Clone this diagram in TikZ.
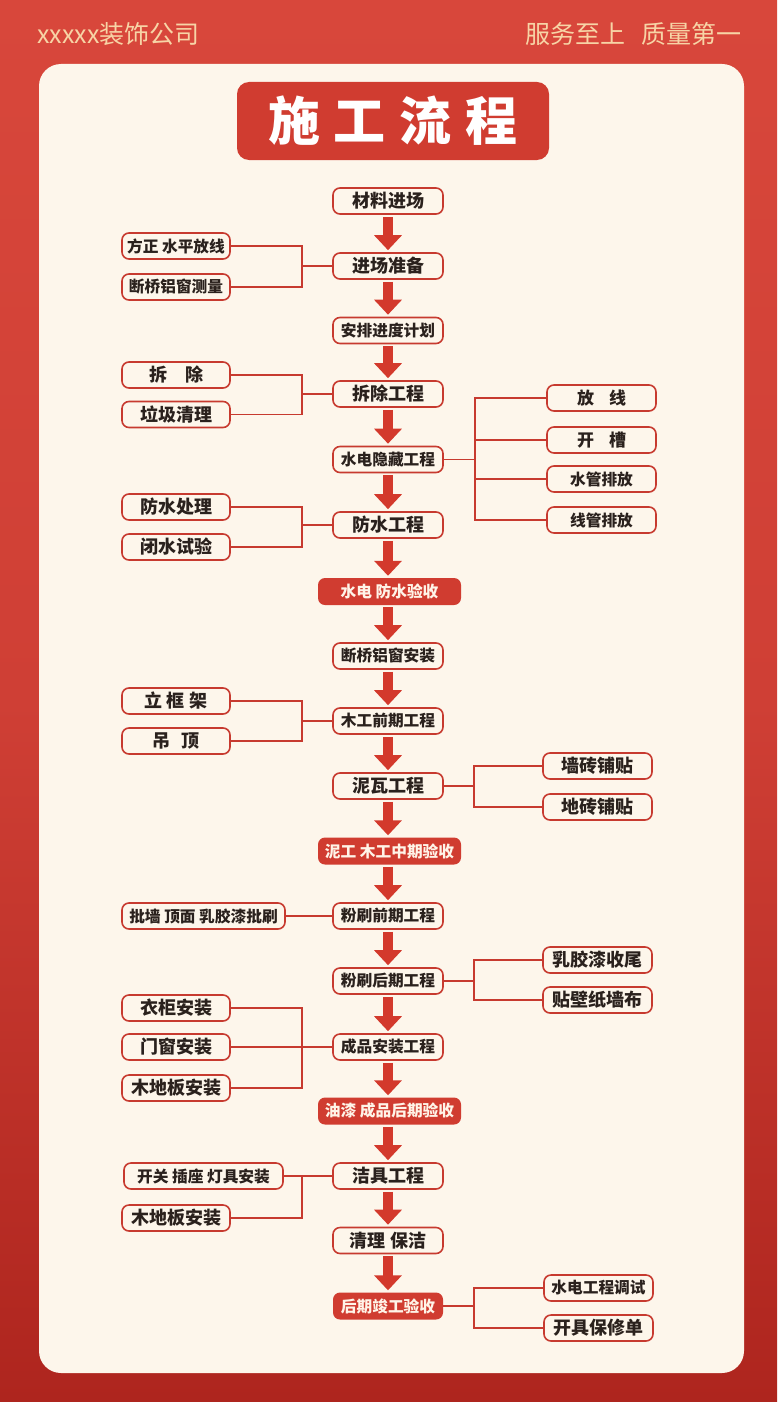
\documentclass[tikz,border=0pt]{standalone}
\usepackage{fontspec}
\setmainfont{Noto Sans CJK SC}
\usetikzlibrary{arrows.meta}
\definecolor{bgtop}{HTML}{D8473B}
\definecolor{bgmid}{HTML}{CF3F35}
\definecolor{bgbot}{HTML}{AE251E}
\definecolor{panel}{HTML}{FDF6EB}
\definecolor{boxred}{HTML}{C73A2F}
\definecolor{arrowred}{HTML}{D3392C}
\definecolor{keyred}{HTML}{D03C30}
\definecolor{ink}{HTML}{2A211D}
\definecolor{headc}{HTML}{F7D4A6}
\definecolor{keytext}{HTML}{FFF4E8}
\newcommand\fA{\bfseries\fontsize{18pt}{18pt}\selectfont}
\newcommand\fB{\bfseries\fontsize{15.7pt}{15.7pt}\selectfont}
\begin{document}
\begin{tikzpicture}[x=1pt,y=-1pt,
  basebox/.style={draw=boxred, line width=1.6pt, rounded corners=7pt, fill=panel,
    minimum height=26pt, inner sep=0pt, text=ink, font=\fA},
  mainbox/.style={basebox, minimum width=110pt},
  subbox/.style={basebox, minimum width=108pt},
  keybox/.style={fill=keyred, rounded corners=7pt, minimum width=143pt, minimum height=27pt,
    inner sep=0pt, text=keytext, font=\fB},
  conn/.style={draw=boxred, line width=1.6pt},
  flow/.style={draw=arrowred, line width=10pt, -{Triangle[width=27pt,length=15pt]},
    shorten <=2pt, shorten >=2pt},
  headtext/.style={text=headc, font=\fontsize{25pt}{25pt}\selectfont, inner sep=0pt}
]
\useasboundingbox (0,0) rectangle (777,1402);
% background
\shade[top color=bgtop, bottom color=bgbot, middle color=bgmid] (0,0) rectangle (777,1402);
\fill[panel, rounded corners=22pt] (39,64) rectangle (744,1373);

% header
\node[headtext, anchor=west] (hl) at (37,34) {xxxxx装饰公司};
\node[headtext, anchor=east] (hr) at (742,34) {服务至上\hspace{16pt}质量第一};

% title
\node[fill=keyred, rounded corners=12pt, minimum width=312pt, minimum height=78pt,
  inner sep=0pt, text=white, font=\bfseries\fontsize{52pt}{52pt}\selectfont] (title) at (393,121)
  {施\hspace{14pt}工\hspace{14pt}流\hspace{14pt}程};

% main column
\node[mainbox] (m1) at (388,201) {材料进场};
\node[mainbox] (m2) at (388,266) {进场准备};
\node[mainbox, font=\fB] (m3) at (388,330.5) {安排进度计划};
\node[mainbox] (m4) at (388,394) {拆除工程};
\node[mainbox, font=\fB] (m5) at (388,459.5) {水电隐藏工程};
\node[mainbox] (m6) at (388,525) {防水工程};
\node[keybox] (k1) at (389.5,591.5) {水电 防水验收};
\node[mainbox, font=\fB] (m7) at (388,656) {断桥铝窗安装};
\node[mainbox, font=\fB] (m8) at (388,721) {木工前期工程};
\node[mainbox] (m9) at (388,786) {泥瓦工程};
\node[keybox] (k2) at (389.5,851) {泥工 木工中期验收};
\node[mainbox, font=\fB] (m10) at (388,916) {粉刷前期工程};
\node[mainbox, font=\fB] (m11) at (388,981) {粉刷后期工程};
\node[mainbox, font=\fB] (m12) at (388,1047) {成品安装工程};
\node[keybox] (k3) at (389.5,1111) {油漆 成品后期验收};
\node[mainbox] (m13) at (388,1176) {洁具工程};
\node[mainbox] (m14) at (388,1240.5) {清理 保洁};
\node[keybox, minimum width=110pt] (k4) at (388,1306) {后期竣工验收};

% flow arrows (kept vertical on the main column axis)
\foreach \a/\b in {m1/m2,m2/m3,m3/m4,m4/m5,m5/m6,m6/k1,k1/m7,m7/m8,m8/m9,m9/k2,
  k2/m10,m10/m11,m11/m12,m12/k3,k3/m13,m13/m14,m14/k4}
  \draw[flow] (m1.south |- \a.south) -- (m1.south |- \b.north);

% left sub boxes
\node[subbox, font=\fB] (l2a) at (176,246) {方正 水平放线};
\node[subbox, font=\fB] (l2b) at (176,287) {断桥铝窗测量};
\node[subbox] (l4a) at (176,375) {拆\hspace{18pt}除};
\node[subbox] (l4b) at (176,414.5) {垃圾清理};
\node[subbox] (l6a) at (176,507) {防水处理};
\node[subbox] (l6b) at (176,547) {闭水试验};
\node[subbox] (l8a) at (176,701) {立\hspace{5pt}框\hspace{5pt}架};
\node[subbox] (l8b) at (176,741) {吊\hspace{12pt}顶};
\node[subbox, font=\fB, minimum width=163pt] (l10) at (203.5,916) {批墙 顶面 乳胶漆批刷};
\node[subbox] (l12a) at (176,1008) {衣柜安装};
\node[subbox] (l12b) at (176,1047) {门窗安装};
\node[subbox] (l12c) at (176,1088) {木地板安装};
\node[subbox, font=\fB, minimum width=159pt] (l13a) at (203.5,1176) {开关 插座 灯具安装};
\node[subbox] (l13b) at (176,1218) {木地板安装};

% right sub boxes
\node[subbox, minimum width=109pt, font=\bfseries\fontsize{17pt}{17pt}\selectfont] (r5a) at (601.5,398) {放\hspace{15pt}线};
\node[subbox, minimum width=109pt, font=\bfseries\fontsize{17pt}{17pt}\selectfont] (r5b) at (601.5,440) {开\hspace{15pt}槽};
\node[subbox, minimum width=109pt, font=\fB] (r5c) at (601.5,479) {水管排放};
\node[subbox, minimum width=109pt, font=\fB] (r5d) at (601.5,520) {线管排放};
\node[subbox, minimum width=109pt] (r9a) at (597.5,766) {墙砖铺贴};
\node[subbox, minimum width=109pt] (r9b) at (597.5,807) {地砖铺贴};
\node[subbox, minimum width=109pt] (r11a) at (597.5,960) {乳胶漆收尾};
\node[subbox, minimum width=109pt] (r11b) at (597.5,1000) {贴壁纸墙布};
\node[subbox, minimum width=109pt, font=\fB] (r15a) at (598.5,1288) {水电工程调试};
\node[subbox, minimum width=109pt] (r15b) at (598.5,1328) {开具保修单};

% left brackets
\coordinate (j2) at (302,266);
\draw[conn] (l2a.east) -| (j2) |- (l2b.east);
\draw[conn] (j2) -- (m2.west);
\coordinate (j4) at (302,394);
\draw[conn] (l4a.east) -| (j4) |- (l4b.east);
\draw[conn] (j4) -- (m4.west);
\coordinate (j6) at (302,525);
\draw[conn] (l6a.east) -| (j6) |- (l6b.east);
\draw[conn] (j6) -- (m6.west);
\coordinate (j8) at (302,721);
\draw[conn] (l8a.east) -| (j8) |- (l8b.east);
\draw[conn] (j8) -- (m8.west);
\draw[conn] (l10.east) -- (m10.west);
\coordinate (j12) at (302,1047);
\draw[conn] (l12a.east) -| (j12) |- (l12c.east);
\draw[conn] (l12b.east) -- (m12.west);
\coordinate (j13) at (302,1176);
\draw[conn] (l13a.east) -- (m13.west);
\draw[conn] (j13) |- (l13b.east);

% right brackets
\coordinate (j5) at (475,459.5);
\draw[conn] (r5a.west) -| (j5) |- (r5d.west);
\draw[conn] (r5b.west) -- (r5b.west -| j5);
\draw[conn] (r5c.west) -- (r5c.west -| j5);
\draw[conn] (m5.east) -- (j5);
\coordinate (j9) at (474,786);
\draw[conn] (r9a.west) -| (j9) |- (r9b.west);
\draw[conn] (m9.east) -- (j9);
\coordinate (j11) at (474,981);
\draw[conn] (r11a.west) -| (j11) |- (r11b.west);
\draw[conn] (m11.east) -- (j11);
\coordinate (j15) at (474,1306);
\draw[conn] (r15a.west) -| (j15) |- (r15b.west);
\draw[conn] (k4.east) -- (j15);
\end{tikzpicture}
\end{document}
